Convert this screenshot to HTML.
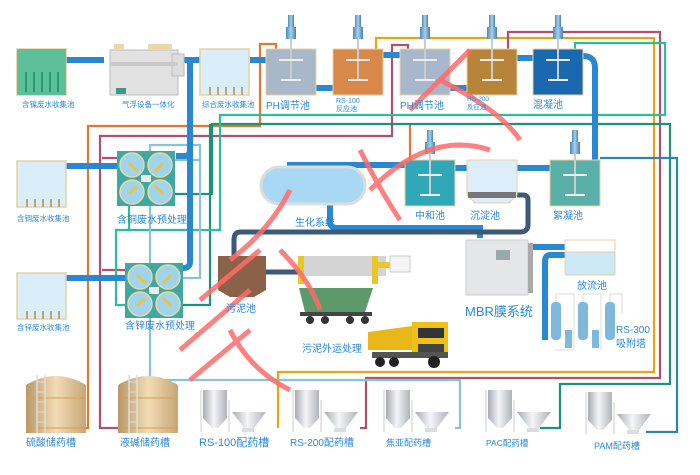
<!DOCTYPE html>
<html><head><meta charset="utf-8"><style>
html,body{margin:0;padding:0;background:#fff;}
svg{display:block;}
text{font-family:"Liberation Sans","Noto Sans CJK SC",sans-serif;fill:#2a8ad8;}
</style></head><body>
<svg width="700" height="475" viewBox="0 0 700 475" xmlns="http://www.w3.org/2000/svg">
<defs>
<linearGradient id="tank" x1="0" x2="1"><stop offset="0" stop-color="#b8986a"/><stop offset=".5" stop-color="#f2dcb4"/><stop offset="1" stop-color="#c6a678"/></linearGradient>
<linearGradient id="silo" x1="0" x2="1"><stop offset="0" stop-color="#a8acb0"/><stop offset=".45" stop-color="#f4f6f8"/><stop offset="1" stop-color="#b0b4b8"/></linearGradient>
<linearGradient id="mot" x1="0" x2="1"><stop offset="0" stop-color="#4a8ab8"/><stop offset=".5" stop-color="#a8d0ec"/><stop offset="1" stop-color="#4a80b0"/></linearGradient>
<g id="mixer"><rect x="-3" y="0" width="6" height="14" fill="url(#mot)"/><rect x="-5" y="12" width="10" height="12" fill="url(#mot)"/><rect x="-1" y="24" width="2" height="42" fill="#ccc"/><path d="M-12 45h24M-10 65h20" stroke="#eee" stroke-width="2"/></g>
<g id="hop"><rect x="0" y="0" width="24" height="28" fill="url(#silo)"/><path d="M0 28h24l-9 10h-6z" fill="url(#silo)"/><path d="M-2 0v42M26 10v32" stroke="#ccc"/><path d="M29 22h34l-12 16h-10z" fill="url(#silo)"/><rect x="39" y="38" width="12" height="4" fill="#ddd"/></g>
<g id="prep"><rect x="0" y="0" width="58" height="55" fill="#3fa8a4"/><circle cx="15" cy="14" r="12" fill="#9fd4ea" stroke="#e8d8a0" stroke-width="1.5"/><circle cx="43" cy="14" r="12" fill="#9fd4ea" stroke="#e8d8a0" stroke-width="1.5"/><circle cx="15" cy="41" r="12" fill="#9fd4ea" stroke="#e8d8a0" stroke-width="1.5"/><circle cx="43" cy="41" r="12" fill="#9fd4ea" stroke="#e8d8a0" stroke-width="1.5"/><path d="M20 20l-8-8M38 20l8-8M20 35l-8 8M38 35l8 8" stroke="#f0c040" stroke-width="3"/><rect x="24" y="24" width="10" height="7" fill="#eee"/></g>
<g id="coll"><rect x="0" y="0" width="49" height="46" fill="#d8eef8" stroke="#e8d0a0" stroke-width="1.5"/><path d="M10 46v-8M18 46v-8M26 46v-8M34 46v-8M42 46v-8" stroke="#c8a070" stroke-width="2"/></g>
</defs>

<!-- colored chemical lines -->
<g fill="none" stroke-width="2.2">
<path d="M68 428H88V126H260V44H276V52" stroke="#e07830"/>
<path d="M410 125V160" stroke="#e07830"/>
<path d="M278 428V372H654V38H376V52" stroke="#e8a418"/>
<path d="M118 428H100V136H392V45H408V52" stroke="#b05070"/>
<path d="M360 428H366V378H660V32H508V52" stroke="#b05070"/>
<path d="M102 158H127" stroke="#b05070"/>
<path d="M102 270H133" stroke="#b05070"/>
<path d="M540 428H560V384H670V124H212V194H172" stroke="#1a9478"/>
<path d="M210 124V305H176" stroke="#1a9478"/>
<path d="M575 52V43H665V115H220V230H116V305H136" stroke="#2abf98"/>
<path d="M129 201V230" stroke="#2abf98"/>
<path d="M646 432H677V158H600" stroke="#2a88a8"/>
<path d="M455 428H460V380H150V145H200V160" stroke="#88c4d8"/>
<path d="M175 160H200V278H176" stroke="#88c4d8"/>
</g>

<!-- blue pipes -->
<g fill="none" stroke="#2a88d0" stroke-width="6">
<path d="M66 60H104M180 60H200M250 60H266M316 88H333M383 55H400M450 88H467M517 58H533M583 56Q595 56 595 68V160"/>
<path d="M190 58V262Q190 268 183 268"/>
<path d="M176 156H184Q190 156 190 150"/>
<path d="M66 166H117M66 278H125"/>
<path d="M405 165H290V172M455 168H467M517 168H550"/>
<path d="M330 205V222Q330 228 338 228H480V238"/>
<path d="M530 247H565M565 255H550Q545 255 545 262V340"/>
</g>
<path d="M517 195H523Q528 195 528 200V225Q528 232 520 232H240Q234 232 234 240V258" fill="none" stroke="#3a5a78" stroke-width="5"/>
<path d="M265 272H300" stroke="#3a5a78" stroke-width="5"/>

<!-- top row -->
<use href="#coll" x="17" y="49"/><rect x="17" y="49" width="49" height="46" fill="#5ec09a"/>
<g stroke="#2a9a6a" stroke-width="2"><path d="M26 72v20M34 72v20M42 72v20M50 72v20M58 72v20"/></g>
<g transform="translate(108,42)"><rect x="2" y="8" width="68" height="45" fill="#e2e2e2" stroke="#bbb"/><rect x="64" y="12" width="12" height="22" fill="#ddd" stroke="#bbb"/><rect x="40" y="2" width="24" height="6" fill="#e8d8a8"/><rect x="6" y="2" width="10" height="6" fill="#e8d8a8"/><rect x="2" y="20" width="68" height="4" fill="#ccc"/><rect x="8" y="46" width="10" height="6" fill="#3a9a8a"/></g>
<use href="#coll" x="200" y="49"/>
<rect x="266" y="49" width="50" height="46" fill="#a8b8c8" stroke="#e8d0a0"/><use href="#mixer" x="291" y="15"/>
<rect x="333" y="49" width="50" height="46" fill="#d88848" stroke="#e8d0a0"/><use href="#mixer" x="358" y="15"/>
<rect x="400" y="49" width="50" height="46" fill="#a8b8cc" stroke="#e8d0a0"/><use href="#mixer" x="425" y="15"/>
<rect x="467" y="49" width="50" height="46" fill="#b8843a" stroke="#e8d0a0"/><use href="#mixer" x="492" y="15"/>
<rect x="533" y="49" width="50" height="46" fill="#1a68b0" stroke="#e8d0a0"/><use href="#mixer" x="558" y="15"/>

<!-- second row -->
<use href="#coll" x="17" y="161"/><use href="#coll" x="17" y="273"/>
<use href="#prep" x="117" y="151"/><use href="#prep" x="125" y="263"/>
<rect x="261" y="167" width="104" height="37" rx="18" fill="#a8d8f4" stroke="#ddd" stroke-width="3"/>
<rect x="405" y="160" width="50" height="46" fill="#30a8b8" stroke="#e8d0a0"/><use href="#mixer" x="430" y="130"/>
<path d="M467 160h50v35l-8 8h-34l-8-8z" fill="#dceefa" stroke="#e8d0a0"/><rect x="468" y="192" width="48" height="6" fill="#777"/>
<rect x="550" y="160" width="50" height="46" fill="#58b0a8" stroke="#e8d0a0"/><use href="#mixer" x="575" y="130"/>

<!-- sludge etc -->
<path d="M218 256h48v34l-12 7h-24l-12-7z" fill="#8a6248"/>
<rect x="298" y="256" width="88" height="20" fill="#d4d4d4"/><rect x="298" y="256" width="6" height="28" fill="#e8c828"/><rect x="372" y="256" width="6" height="28" fill="#e8c828"/><rect x="378" y="262" width="12" height="6" fill="#e8c828"/><rect x="390" y="256" width="20" height="16" fill="#f4f4f4" stroke="#ccc"/>
<path d="M299 288h74l-8 24h-60z" fill="#5c9a6a"/><rect x="300" y="312" width="72" height="4" fill="#444"/><circle cx="310" cy="320" r="4" fill="#333"/><circle cx="325" cy="320" r="4" fill="#333"/><circle cx="350" cy="320" r="4" fill="#333"/><circle cx="365" cy="320" r="4" fill="#333"/>
<g transform="translate(368,322)"><path d="M0 10l44-6v24H0z" fill="#e8b818"/><rect x="44" y="0" width="36" height="34" fill="#f0c018"/><rect x="50" y="6" width="26" height="10" fill="#333"/><rect x="50" y="22" width="26" height="8" fill="#444"/><rect x="4" y="30" width="76" height="6" fill="#555"/><circle cx="12" cy="40" r="5" fill="#222"/><circle cx="26" cy="40" r="5" fill="#222"/><circle cx="66" cy="40" r="6" fill="#222"/></g>
<rect x="466" y="240" width="62" height="55" fill="#e4e6e8" stroke="#ccc"/><rect x="496" y="250" width="14" height="10" fill="#9aa"/><rect x="528" y="243" width="5" height="50" fill="#aaa"/>
<rect x="565" y="240" width="50" height="35" fill="#cde8f6" stroke="#e8d0a0"/><rect x="565" y="240" width="50" height="12" fill="#fff" stroke="#e8d0a0"/>
<g fill="#80b8dc"><rect x="551" y="302" width="10" height="38" rx="4"/><rect x="578" y="302" width="10" height="38" rx="4"/><rect x="605" y="302" width="10" height="38" rx="4"/><rect x="565" y="330" width="7" height="18"/><rect x="592" y="330" width="7" height="18"/></g>
<path d="M556 302v-8h18v56h-20M583 302v-8h18v56M610 302v-8h12v20" fill="none" stroke="#ddd"/>

<!-- bottom -->
<g><path d="M26 385q30-18 60 0v48H26z" fill="url(#tank)"/><path d="M26 398h60M26 428h60" stroke="#d8a040"/><path d="M37 375v58M45 375v58" stroke="#ddd" stroke-width="1.5"/><path d="M37 382h8M37 392h8M37 402h8M37 412h8M37 422h8" stroke="#ddd"/></g>
<g><path d="M118 385q30-18 60 0v48h-60z" fill="url(#tank)"/><path d="M118 398h60M118 428h60" stroke="#d8a040"/><path d="M129 375v58M137 375v58" stroke="#ddd" stroke-width="1.5"/><path d="M129 382h8M129 392h8M129 402h8M129 412h8M129 422h8" stroke="#ddd"/></g>
<use href="#hop" x="203" y="390"/><use href="#hop" x="295" y="390"/><use href="#hop" x="386" y="390"/><use href="#hop" x="488" y="390"/><use href="#hop" x="588" y="392"/>

<!-- watermark approximation -->
<g fill="none" stroke="#ff6a6a" stroke-width="5" opacity=".85">
<path d="M440 80q60 30 80 60M410 110l60-60M370 190q60-60 120-40M360 150q20 40 40 70M230 260q40-30 60-70M200 300l60-50M180 350l70-60M190 380l60-50M230 330q20 40 60 60M280 250q30 30 40 60"/>
</g>

<!-- labels -->
<g font-size="7.5">
<text x="22" y="107">含镍废水收集池</text>
<text x="122" y="107">气浮设备一体化</text>
<text x="202" y="107">综合废水收集池</text>
<text x="17" y="221">含铜废水收集池</text>
<text x="17" y="330">含锌废水收集池</text>
<text x="336" y="103" font-size="7">RS-100</text><text x="336" y="111" font-size="7">反应池</text>
<text x="467" y="101" font-size="6.5">RS-200</text><text x="467" y="109" font-size="6.5">反应池</text>
</g>
<g font-size="10">
<text x="266" y="109">PH调节池</text><text x="400" y="109">PH调节池</text><text x="533" y="108">混凝池</text>
<text x="117" y="223">含铜废水预处理</text><text x="125" y="329">含锌废水预处理</text>
<text x="295" y="226">生化系统</text><text x="415" y="219">中和池</text><text x="470" y="219">沉淀池</text><text x="553" y="219">絮凝池</text>
<text x="226" y="312">污泥池</text><text x="302" y="352">污泥外运处理</text>
<text x="577" y="289">放流池</text>
<text x="616" y="333">RS-300</text><text x="616" y="347">吸附塔</text>
<text x="26" y="446">硫酸储药槽</text><text x="120" y="446">液碱储药槽</text>
<text x="199" y="446" font-size="11">RS-100配药槽</text><text x="290" y="446">RS-200配药槽</text>
<text x="386" y="446" font-size="9">焦亚配药槽</text><text x="486" y="446" font-size="8.5">PAC配药槽</text><text x="594" y="449" font-size="9">PAM配药槽</text>
</g>
<text x="465" y="316" font-size="13">MBR膜系统</text>
</svg>
</body></html>
